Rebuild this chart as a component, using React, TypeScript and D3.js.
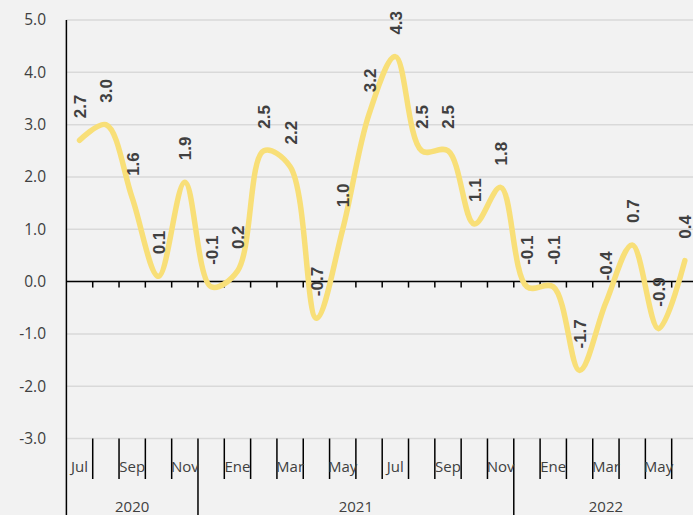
import React, { useEffect, useRef } from 'react'
import * as d3 from 'd3'

const months = ['Jul','Ago','Sep','Oct','Nov','Dic','Ene','Feb','Mar','Abr','May','Jun','Jul','Ago','Sep','Oct','Nov','Dic','Ene','Feb','Mar','Abr','May','Jun'];
const values = [2.7,3.0,1.6,0.1,1.9,-0.1,0.2,2.5,2.2,-0.7,1.0,3.2,4.3,2.5,2.5,1.1,1.8,-0.1,-0.1,-1.7,-0.4,0.7,-0.9,0.4];
const years = ['2020','2021','2022'];
const yearStarts = [0,5,17];
const yearCounts = [5,12,7];
const yTicks = [5,4,3,2,1,0,-1,-2,-3];

const fmt = (d:number)=>d.toFixed(1);

export default function App() {
  const ref = useRef<SVGSVGElement>(null);
  useEffect(()=>{
    if(!ref.current) return;
    const svg = d3.select(ref.current); svg.selectAll('*').remove();
    const W = 693, H = 515;
    const left = 66.4, right = 698, top = 20, bottom = 438.5;
    const x = d3.scaleBand<number>().domain(d3.range(values.length)).range([left,right]).padding(0);
    const y = d3.scaleLinear().domain([-3,5]).range([bottom,top]);
    const bw = x.bandwidth();
    const axisFont = '"Open Sans", "Noto Sans", sans-serif';
    const grey = '#404040';

    svg.append('rect').attr('width',W).attr('height',H).attr('fill','#f2f2f2');

    // gridlines
    svg.append('g').selectAll('line').data(yTicks).enter().append('line')
      .attr('x1',left).attr('x2',W).attr('y1',d=>y(d)).attr('y2',d=>y(d))
      .attr('stroke','#d9d9d9').attr('stroke-width',1.5);

    // y labels
    svg.append('g').selectAll('text').data(yTicks).enter().append('text')
      .attr('x',46).attr('y',d=>y(d)).attr('dy','0.35em').attr('text-anchor','end')
      .attr('font-family',axisFont).attr('font-size',15.5).attr('fill',grey)
      .text(d=>fmt(d));

    // zero axis with ticks
    svg.append('line').attr('x1',left).attr('x2',W).attr('y1',y(0)).attr('y2',y(0)).attr('stroke','#000').attr('stroke-width',1.5);
    svg.append('g').selectAll('line').data(d3.range(1,values.length)).enter().append('line')
      .attr('x1',i=>left+i*bw).attr('x2',i=>left+i*bw).attr('y1',y(0)).attr('y2',y(0)+6)
      .attr('stroke','#000').attr('stroke-width',1.5);

    // category ticks below plot
    const isYearEdge = (i:number)=>yearStarts.includes(i);
    svg.append('g').selectAll('line').data(d3.range(1,values.length)).enter().append('line')
      .attr('x1',i=>left+i*bw).attr('x2',i=>left+i*bw).attr('y1',bottom).attr('y2',i=>isYearEdge(i)?H:479)
      .attr('stroke','#000').attr('stroke-width',1.5);
    // y axis line
    svg.append('line').attr('x1',left).attr('x2',left).attr('y1',top).attr('y2',H).attr('stroke','#000').attr('stroke-width',1.5);

    // month labels
    svg.append('g').selectAll('text').data(d3.range(0,values.length,2)).enter().append('text')
      .attr('x',i=>(x(i) as number)+bw/2).attr('y',472).attr('text-anchor','middle')
      .attr('font-family',axisFont).attr('font-size',15).attr('fill',grey)
      .text(i=>months[i]);

    // year labels
    svg.append('g').selectAll('text').data(years).enter().append('text')
      .attr('x',(_,k)=>left+(yearStarts[k]+yearCounts[k]/2)*bw).attr('y',512).attr('text-anchor','middle')
      .attr('font-family',axisFont).attr('font-size',15).attr('fill',grey)
      .text(d=>d);

    // line
    const line = d3.line<number>().x((_,i)=>(x(i) as number)+bw/2).y(d=>y(d)).curve(d3.curveCatmullRom.alpha(0.5));
    svg.append('path').datum(values).attr('d',line).attr('fill','none')
      .attr('stroke','#f8df78').attr('stroke-width',5.5).attr('stroke-linecap','round');

    // data labels
    svg.append('g').selectAll('text').data(values).enter().append('text')
      .attr('transform',(d,i)=>`translate(${(x(i) as number)+bw/2+1},${y(d)-22}) rotate(-90)`)
      .attr('dominant-baseline','central').attr('text-anchor','start')
      .attr('font-family','"Liberation Sans", Arial, sans-serif').attr('font-weight','bold')
      .attr('font-size',17).attr('fill',grey)
      .text(d=>fmt(d));
  },[]);
  return <svg ref={ref} width={693} height={515} style={{position:'absolute',left:0,top:0,overflow:'hidden'}}></svg>;
}
